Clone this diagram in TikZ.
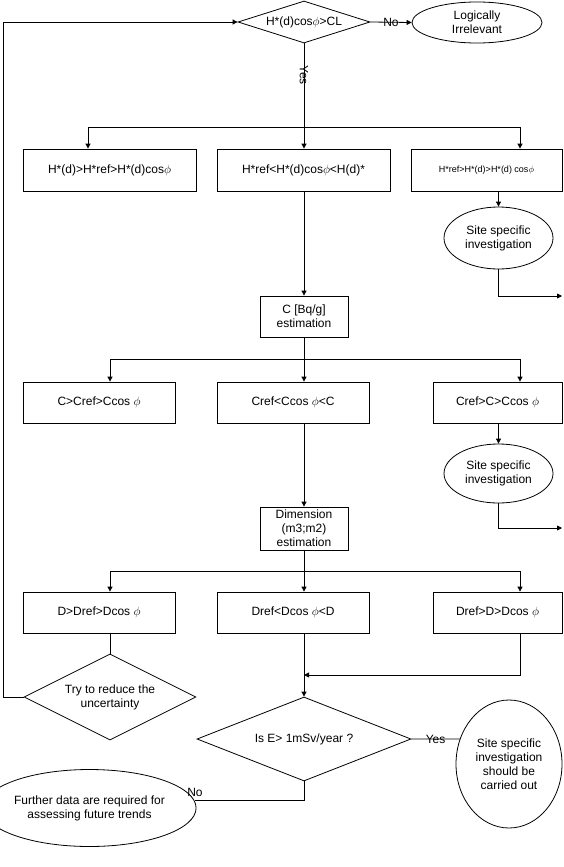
\documentclass[tikz,border=0pt]{standalone}
\usepackage{fontspec}
\setmainfont{Liberation Sans}
\usetikzlibrary{shapes.geometric,arrows.meta}
\begin{document}
\begin{tikzpicture}[x=1pt,y=-1pt,
  line width=0.8pt,
  every node/.style={font=\fontsize{12}{14}\selectfont, align=center, inner sep=0pt},
  box/.style={draw, rectangle},
  oval/.style={draw, ellipse},
  dia/.style={draw, diamond, aspect=3},
  arr/.style={-{Triangle[length=5pt,width=5pt]}},
  lbl/.style={font=\fontsize{12}{14}\selectfont}]
\useasboundingbox (0,0) rectangle (563,867);
% top decision
\node[dia, minimum width=132pt, minimum height=42pt] (d1) at (304,22) {H*(d)cos$\phi$>CL};
\node[oval, minimum width=130pt, minimum height=41pt] (li) at (477,22.5) {Logically\\Irrelevant};
\draw[arr] (d1.east) -- node[lbl]{No} (li.west);
% row 1
\node[box, minimum width=173pt, minimum height=42pt] (r1a) at (109.5,170) {H*(d)>H*ref>H*(d)cos$\phi$};
\node[box, minimum width=173pt, minimum height=42pt] (r1b) at (303.5,170) {H*ref<H*(d)cos$\phi$<{\rmfamily H(d)*}};
\node[box, minimum width=151pt, minimum height=42pt, font=\fontsize{9}{11}\selectfont] (r1c) at (486.5,170) {H*ref>H*(d)>H*(d) cos$\phi$};
\coordinate (b1) at (304,127);
\coordinate (b1l) at (88,127);
\coordinate (b1r) at (520,127);
\draw (d1.south) -- node[lbl, rotate=-90, pos=0.38]{Yes} (b1);
\draw (b1l) -- (b1r);
\draw[arr] (b1l) -- (b1l |- r1a.north);
\draw[arr] (b1) -- (b1 |- r1b.north);
\draw[arr] (b1r) -- (b1r |- r1c.north);
\node[oval, minimum width=109pt, minimum height=62pt] (e1) at (498.5,238) {Site specific\\investigation};
\draw[arr] (r1c.south -| e1) -- (e1.north);
\coordinate (o1) at (562,296);
\draw[arr] (e1.south) |- (o1);
% C estimation
\node[box, minimum width=88pt, minimum height=41pt] (cb) at (304,316.5) {C [Bq/g]\\estimation};
\draw[arr] (r1b.south -| cb) -- (cb.north);
% row 2
\node[box, minimum width=152pt, minimum height=41pt] (r2a) at (99,402.5) {C>Cref>Ccos $\phi$};
\node[box, minimum width=152pt, minimum height=41pt] (r2b) at (293,402.5) {Cref<Ccos $\phi$<C};
\node[box, minimum width=129pt, minimum height=41pt] (r2c) at (497.5,402.5) {Cref>C>Ccos $\phi$};
\coordinate (b2) at (304,359);
\coordinate (b2l) at (110,359);
\coordinate (b2r) at (520,359);
\draw (cb.south) -- (b2);
\draw (b2l) -- (b2r);
\draw[arr] (b2l) -- (b2l |- r2a.north);
\draw[arr] (b2) -- (b2 |- r2b.north);
\draw[arr] (b2r) -- (b2r |- r2c.north);
\node[oval, minimum width=109pt, minimum height=59pt] (e2) at (498.5,473.5) {Site specific\\investigation};
\draw[arr] (r2c.south -| e2) -- (e2.north);
\coordinate (o2) at (562,528);
\draw[arr] (e2.south) |- (o2);
% dimension
\node[box, minimum width=88pt, minimum height=43pt] (db) at (304,528.5) {Dimension\\(m3;m2)\\estimation};
\draw[arr] (r2b.south -| db) -- (db.north);
% row 3
\node[box, minimum width=152pt, minimum height=41pt] (r3a) at (99,612.5) {D>Dref>Dcos $\phi$};
\node[box, minimum width=152pt, minimum height=41pt] (r3b) at (293,612.5) {Dref<Dcos $\phi$<D};
\node[box, minimum width=129pt, minimum height=41pt] (r3c) at (497.5,612.5) {Dref>D>Dcos $\phi$};
\coordinate (b3) at (304,571);
\coordinate (b3l) at (110,571);
\coordinate (b3r) at (520,571);
\draw (db.south) -- (b3);
\draw (b3l) -- (b3r);
\draw[arr] (b3l) -- (b3l |- r3a.north);
\draw[arr] (b3) -- (b3 |- r3b.north);
\draw[arr] (b3r) -- (b3r |- r3c.north);
% try to reduce
\node[dia, minimum width=172pt, minimum height=86pt] (td) at (110,697) {Try to reduce the\\uncertainty};
\draw (r3a.south -| td) -- (td.north);
\coordinate (lx) at (3,0);
\draw[arr] (td.west) -- (td.west -| lx) |- (d1.west);
% final decision
\node[dia, minimum width=214pt, minimum height=84pt] (ie) at (304,739) {Is E> 1mSv/year ?};
\coordinate (j) at (304,675);
\draw[arr] (r3c.south -| b3r) |- (j);
\draw[arr] (r3b.south -| ie) -- (ie.north);
\node[oval, minimum width=106pt, minimum height=128pt] (be) at (509,764) {Site specific\\investigation\\should be\\carried out};
\draw (ie.east) -- node[lbl]{Yes} (be.153);
\node[oval, minimum width=171pt, minimum height=77pt] (fe) at (89.5,808) {Further data are required for\\assessing future trends};
\draw (ie.south) |- (fe.4);
\node[lbl] (nol) at (195,792) {No};
\end{tikzpicture}
\end{document}
